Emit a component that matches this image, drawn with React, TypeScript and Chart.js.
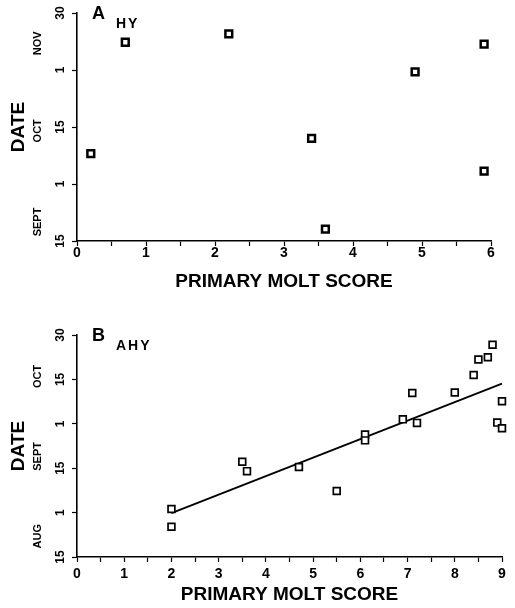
import React, { useEffect, useRef } from "react";
import { Chart, registerables } from "chart.js";
Chart.register(...registerables);

const FONT = "'Liberation Sans', Arial, Helvetica, sans-serif";

// Panel A: HY birds (date axis: days since Sept 15, ticks every 15)
const hyMolt = [0.2, 0.7, 2.2, 3.4, 3.6, 4.9, 5.9, 5.9];
const hyDate = [23, 52.3, 54.5, 27, 3.1, 44.5, 51.8, 18.4];
const hyDateTicks = ["15", "1", "15", "1", "30"];
const hyMonths = ["SEPT", "OCT", "NOV"];
const hyMonthPos = [5, 29, 52];

// Panel B: AHY birds (date axis: days since Aug 15, ticks every 15)
const ahyMolt = [2.0, 2.0, 3.5, 3.6, 4.7, 5.5, 6.1, 6.1, 6.9, 7.1, 7.2, 8.0, 8.4, 8.5, 8.7, 8.8, 9.0, 8.9, 9.0];
const ahyDate = [16.2, 10.2, 32.2, 29.0, 30.4, 22.3, 41.4, 39.4, 46.5, 55.4, 45.3, 55.6, 61.5, 66.7, 67.5, 71.7, 52.6, 45.4, 43.5];
const ahyDateTicks = ["15", "1", "15", "1", "15", "30"];
const ahyMonths = ["AUG", "SEPT", "OCT"];
const ahyMonthPos = [7, 34, 61];
const fitMolt = [2, 9];
const fitDate = [14.8, 58.6];

type PanelCfg = {
  letter: string;
  group: string;
  xMax: number;
  yMax: number;
  dateTicks: string[];
  months: string[];
  monthPos: number[];
  molt: number[];
  date: number[];
  fit?: { x: number[]; y: number[] };
  padTop: number;
  padRight: number;
  xHeight: number;
  xTickPad: number;
  titleOffset: number;
  pointBorder: number;
};

function makeTextPlugin(cfg: PanelCfg) {
  return {
    id: "panelText",
    afterDraw(chart: any) {
      const ctx = chart.ctx as CanvasRenderingContext2D;
      const ys = chart.scales.y;
      const area = chart.chartArea;
      ctx.save();
      ctx.fillStyle = "#000";
      ctx.textAlign = "center";
      ctx.textBaseline = "middle";
      const rot = (txt: string, x: number, y: number) => {
        ctx.save();
        ctx.translate(x, y);
        ctx.rotate(-Math.PI / 2);
        ctx.fillText(txt, 0, 0);
        ctx.restore();
      };
      ctx.font = `bold 12px ${FONT}`;
      cfg.dateTicks.forEach((lab, i) => rot(lab, 61, ys.getPixelForValue(i * 15)));
      ctx.font = `bold 11px ${FONT}`;
      cfg.months.forEach((m, i) => rot(m, 38, ys.getPixelForValue(cfg.monthPos[i])));
      ctx.font = `bold 19px ${FONT}`;
      rot("DATE", 19, (area.top + area.bottom) / 2);
      ctx.font = `bold 19px ${FONT}`;
      ctx.fillText("PRIMARY MOLT SCORE", (area.left + area.right) / 2, area.bottom + cfg.titleOffset);
      ctx.textAlign = "left";
      ctx.font = `bold 18px ${FONT}`;
      ctx.fillText(cfg.letter, area.left + 15, area.top + 1);
      ctx.font = `bold 14px ${FONT}`;
      const gx = area.left + 39;
      let cx = gx;
      for (const ch of cfg.group) {
        ctx.fillText(ch, cx, area.top + 11);
        cx += ctx.measureText(ch).width + 2;
      }
      ctx.restore();
    },
  };
}

function Panel({ cfg, width, height }: { cfg: PanelCfg; width: number; height: number }) {
  const ref = useRef<HTMLCanvasElement>(null);
  useEffect(() => {
    if (!ref.current) return;
    const datasets: any[] = [
      {
        data: cfg.molt.map((m, i) => ({ x: m, y: cfg.date[i] })),
        pointStyle: "rect",
        pointRadius: 4.8,
        pointBorderWidth: cfg.pointBorder,
        pointBorderColor: "#000",
        pointBackgroundColor: "#fff",
        clip: false,
      },
    ];
    if (cfg.fit) {
      datasets.push({
        data: cfg.fit.x.map((m, i) => ({ x: m, y: cfg.fit!.y[i] })),
        showLine: true,
        borderColor: "#000",
        borderWidth: 1.8,
        pointRadius: 0,
        clip: false,
      });
    }
    const chart = new Chart(ref.current, {
      type: "scatter",
      data: { datasets },
      options: {
        animation: false,
        responsive: false,
        layout: { padding: { left: 0, top: cfg.padTop, right: cfg.padRight, bottom: 0 } },
        plugins: { legend: { display: false }, tooltip: { enabled: false }, title: { display: false } },
        scales: {
          x: {
            type: "linear",
            min: 0,
            max: cfg.xMax,
            afterFit: (s: any) => {
              s.height = cfg.xHeight;
            },
            border: { display: true, color: "#000", width: 1.6 },
            grid: { display: true, drawOnChartArea: false, drawTicks: true, tickLength: 5, color: "#000", tickWidth: 1.2 },
            ticks: {
              stepSize: 0.5,
              autoSkip: false,
              maxRotation: 0,
              padding: cfg.xTickPad,
              color: "#000",
              font: { family: FONT, size: 14, weight: "bold" },
              callback: (v: any) => (Number(v) % 1 === 0 ? String(v) : ""),
            },
          },
          y: {
            type: "linear",
            min: 0,
            max: cfg.yMax,
            afterFit: (s: any) => {
              s.width = 77;
            },
            border: { display: true, color: "#000", width: 1.6 },
            grid: { display: true, drawOnChartArea: false, drawTicks: true, tickLength: 5, color: "#000", tickWidth: 1.2 },
            ticks: { stepSize: 15, display: false },
          },
        },
      },
      plugins: [makeTextPlugin(cfg)],
    } as any);
    return () => chart.destroy();
  }, [cfg]);
  return <canvas ref={ref} width={width} height={height} style={{ display: "block", width, height }} />;
}

const panelA: PanelCfg = {
  letter: "A",
  group: "HY",
  xMax: 6,
  yMax: 60,
  dateTicks: hyDateTicks,
  months: hyMonths,
  monthPos: hyMonthPos,
  molt: hyMolt,
  date: hyDate,
  padTop: 13,
  padRight: 24,
  xHeight: 59,
  xTickPad: -1,
  titleOffset: 41,
  pointBorder: 2.5,
};

const panelB: PanelCfg = {
  letter: "B",
  group: "AHY",
  xMax: 9,
  yMax: 75,
  dateTicks: ahyDateTicks,
  months: ahyMonths,
  monthPos: ahyMonthPos,
  molt: ahyMolt,
  date: ahyDate,
  fit: { x: fitMolt, y: fitDate },
  padTop: 35,
  padRight: 13,
  xHeight: 51,
  xTickPad: 4,
  titleOffset: 38,
  pointBorder: 1.7,
};

export default function App() {
  return (
    <div style={{ position: "absolute", left: 0, top: 0, width: 515, height: 608, background: "#fff" }}>
      <Panel cfg={panelA} width={515} height={300} />
      <Panel cfg={panelB} width={515} height={308} />
    </div>
  );
}
